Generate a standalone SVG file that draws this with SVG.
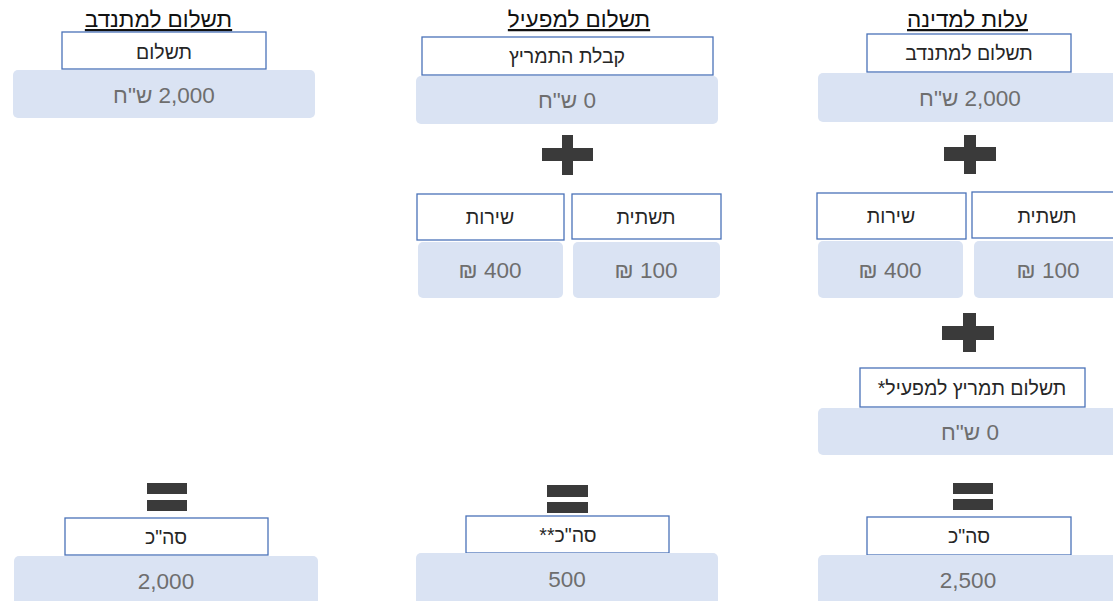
<svg xmlns="http://www.w3.org/2000/svg" width="1113" height="601" viewBox="0 0 1113 601">
<style>
  text { font-family: "Liberation Sans", Arial, "Noto Sans", sans-serif; direction: rtl; text-anchor: middle; }
  .hd { font-size: 22.5px; fill: #111111; text-decoration: underline; }
  .lbl { font-size: 19.5px; fill: #262626; }
  .val { font-size: 22.5px; fill: #6e6e6e; }
  .box { fill: #ffffff; stroke: #4a72b8; stroke-width: 1.3; }
  .blue { fill: #dae3f3; }
  .op { fill: #3a3a3a; }
</style>
<rect x="0" y="0" width="1113" height="601" fill="#ffffff"/>

<g id="col-volunteer">
  <text class="hd" x="158.5" y="27">תשלום למתנדב</text>
  <g id="v-payment">
    <rect class="box" x="62" y="32" width="204" height="37"/>
    <text class="lbl" x="164" y="59">תשלום</text>
  </g>
  <g id="v-payment-val">
    <rect class="blue" x="13" y="70" width="302" height="48" rx="5"/>
    <text class="val" x="164" y="103">2,000 ש"ח</text>
  </g>
  <g id="v-equals">
    <rect class="op" x="147" y="483" width="40" height="11"/>
    <rect class="op" x="147" y="500" width="40" height="11"/>
  </g>
  <g id="v-total">
    <rect class="box" x="65" y="518" width="203" height="37"/>
    <text class="lbl" x="166" y="543.5">סה"כ</text>
  </g>
  <g id="v-total-val">
    <rect class="blue" x="14" y="556" width="304" height="52" rx="5"/>
    <text class="val" x="166" y="589">2,000</text>
  </g>
</g>

<g id="col-operator">
  <text class="hd" x="579" y="27">תשלום למפעיל</text>
  <g id="o-incentive">
    <rect class="box" x="422" y="37" width="291" height="38"/>
    <text class="lbl" x="567" y="63">קבלת התמריץ</text>
  </g>
  <g id="o-incentive-val">
    <rect class="blue" x="416" y="76" width="302" height="48" rx="5"/>
    <text class="val" x="567" y="108">0 ש"ח</text>
  </g>
  <g id="o-plus">
    <rect class="op" x="542" y="148" width="51" height="13"/>
    <rect class="op" x="562" y="135" width="11" height="40"/>
  </g>
  <g id="o-service">
    <rect class="box" x="417" y="194" width="147" height="46"/>
    <text class="lbl" x="490" y="224">שירות</text>
  </g>
  <g id="o-infra">
    <rect class="box" x="572" y="194" width="149" height="45"/>
    <text class="lbl" x="646" y="224">תשתית</text>
  </g>
  <g id="o-service-val">
    <rect class="blue" x="418" y="242" width="145" height="56" rx="5"/>
    <text class="val" x="490" y="278">400 ₪</text>
  </g>
  <g id="o-infra-val">
    <rect class="blue" x="573" y="242" width="147" height="56" rx="5"/>
    <text class="val" x="646" y="278">100 ₪</text>
  </g>
  <g id="o-equals">
    <rect class="op" x="547" y="485" width="41" height="12"/>
    <rect class="op" x="547" y="502" width="41" height="11"/>
  </g>
  <g id="o-total">
    <rect class="box" x="466" y="516" width="203" height="37"/>
    <text class="lbl" x="568" y="541.5">סה"כ**</text>
  </g>
  <g id="o-total-val">
    <rect class="blue" x="416" y="553" width="302" height="55" rx="5"/>
    <text class="val" x="567" y="587">500</text>
  </g>
</g>

<g id="col-state">
  <text class="hd" x="967.5" y="27">עלות למדינה</text>
  <g id="s-volunteer">
    <rect class="box" x="867" y="34" width="204" height="38"/>
    <text class="lbl" x="969" y="60">תשלום למתנדב</text>
  </g>
  <g id="s-volunteer-val">
    <rect class="blue" x="818" y="73" width="304" height="49" rx="5"/>
    <text class="val" x="970" y="105.5">2,000 ש"ח</text>
  </g>
  <g id="s-plus1">
    <rect class="op" x="944" y="147" width="52" height="14"/>
    <rect class="op" x="964" y="135" width="12" height="39"/>
  </g>
  <g id="s-service">
    <rect class="box" x="817" y="193" width="149" height="46"/>
    <text class="lbl" x="891" y="223">שירות</text>
  </g>
  <g id="s-infra">
    <rect class="box" x="972" y="192" width="150" height="46"/>
    <text class="lbl" x="1047" y="223">תשתית</text>
  </g>
  <g id="s-service-val">
    <rect class="blue" x="818" y="241" width="145" height="57" rx="5"/>
    <text class="val" x="890" y="277.5">400 ₪</text>
  </g>
  <g id="s-infra-val">
    <rect class="blue" x="974" y="241" width="148" height="57" rx="5"/>
    <text class="val" x="1048" y="277.5">100 ₪</text>
  </g>
  <g id="s-plus2">
    <rect class="op" x="942" y="326" width="52" height="14"/>
    <rect class="op" x="963" y="313" width="13" height="39"/>
  </g>
  <g id="s-incentive">
    <rect class="box" x="860" y="368" width="225" height="39"/>
    <text class="lbl" x="972" y="394.5">תשלום תמריץ למפעיל*</text>
  </g>
  <g id="s-incentive-val">
    <rect class="blue" x="818" y="408" width="304" height="47" rx="5"/>
    <text class="val" x="970" y="439.5">0 ש"ח</text>
  </g>
  <g id="s-equals">
    <rect class="op" x="953" y="483" width="40" height="11"/>
    <rect class="op" x="953" y="499" width="40" height="11"/>
  </g>
  <g id="s-total">
    <rect class="box" x="867" y="517" width="204" height="38"/>
    <text class="lbl" x="969" y="543">סה"כ</text>
  </g>
  <g id="s-total-val">
    <rect class="blue" x="818" y="555" width="304" height="53" rx="5"/>
    <text class="val" x="968" y="588">2,500</text>
  </g>
</g>

<g id="connectors"/>
</svg>
